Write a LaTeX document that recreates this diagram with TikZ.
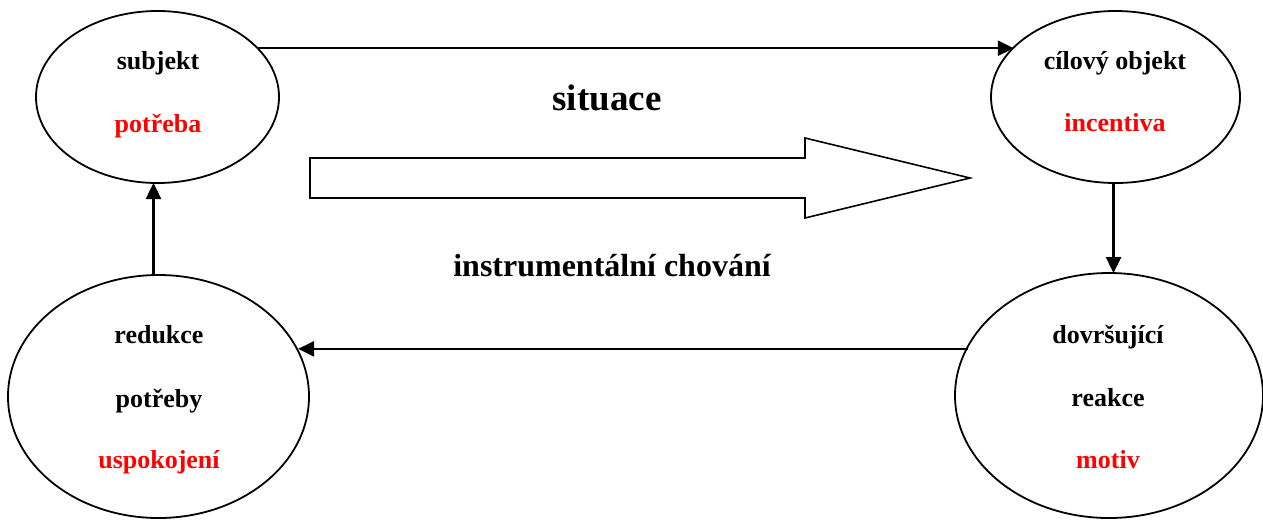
\documentclass[tikz,border=0pt]{standalone}
\usepackage{fontspec}
\setmainfont{Liberation Serif}
\usetikzlibrary{shapes.geometric,arrows.meta}
\definecolor{labelred}{RGB}{255,0,0}
\begin{document}
\begin{tikzpicture}[x=1pt,y=-1pt,
    stage/.style={draw=black, line width=1.8pt, ellipse, inner sep=0pt, outer sep=0pt},
    lbl/.style={font=\fontsize{26}{30}\selectfont\bfseries, anchor=base, inner sep=0pt},
    redlbl/.style={lbl, text=labelred},
    flow/.style={line width=2.5pt, -{Triangle[length=16pt,width=15pt]}}]
  \useasboundingbox (0,0) rectangle (1263,520);
  \fill[white] (0,0) rectangle (1263,520);

  % the four stages of the cycle
  \node[stage, minimum width=243pt, minimum height=172pt] (subj) at (157.5,97) {};
  \node[stage, minimum width=249pt, minimum height=172pt] (cil)  at (1115.5,97) {};
  \node[stage, minimum width=301pt, minimum height=243pt] (red)  at (158.5,396.5) {};
  \node[stage, minimum width=308pt, minimum height=245pt] (dov)  at (1109,395.5) {};

  % labels inside the stages
  \node[lbl]    (t1) at (158,69)  {subjekt};
  \node[redlbl] (t2) at (158,132) {potřeba};
  \node[lbl]    (t3) at (1115,69) {cílový objekt};
  \node[redlbl] (t4) at (1115,131) {incentiva};
  \node[lbl]    (t5) at (159,343) {redukce};
  \node[lbl]    (t6) at (159,407) {potřeby};
  \node[redlbl] (t7) at (159,468) {uspokojení};
  \node[lbl]    (t8) at (1108,343) {dovršující};
  \node[lbl]    (t9) at (1108,406) {reakce};
  \node[redlbl] (t10) at (1108,468) {motiv};

  % central captions
  \node[lbl, font=\fontsize{37}{42}\selectfont\bfseries] (sit) at (607,110) {situace};
  \node[lbl, font=\fontsize{32}{36}\selectfont\bfseries] (ins) at (612,276) {instrumentální chování};

  % wide hollow arrow
  \draw[line width=1.6pt, line join=miter]
    (310,158) -- (805,158) -- (805,138) -- (970,178) -- (805,218) -- (805,198) -- (310,198) -- cycle;

  % connectors of the cycle
  \draw[flow] (subj.26.1) -- (subj.26.1 -| cil.154.4);
  \draw[flow] ([xshift=-2pt]cil.south) -- ([xshift=-2pt]cil.south |- dov.north);
  \draw[flow] ([yshift=-2pt]dov.161.9) -- ([yshift=-2pt]dov.161.9 -| red.18.9);
  \draw[flow] ([xshift=-5pt]red.north) -- ([xshift=-5pt]red.north |- subj.south);
\end{tikzpicture}
\end{document}
